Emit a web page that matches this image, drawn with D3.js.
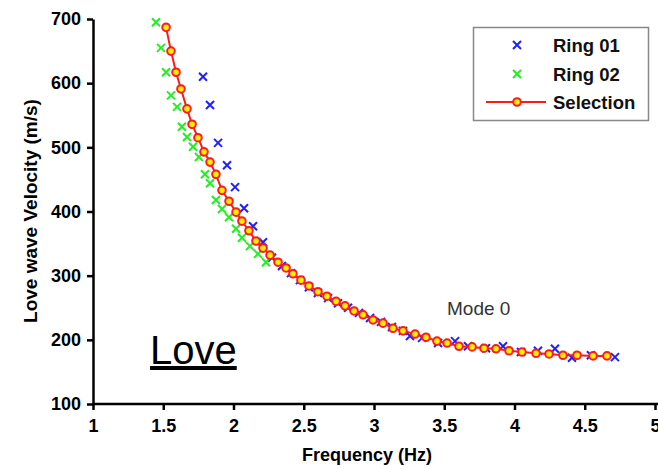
<!DOCTYPE html>
<html><head><meta charset="utf-8">
<script src="https://cdn.jsdelivr.net/npm/d3@7"></script>
<style>
body{margin:0;background:#fff;}
svg{display:block;font-family:"Liberation Sans",Arial,Helvetica,sans-serif;}
</style></head><body>
<svg id="c" width="658" height="469"></svg>
<script>
const xTicks = [1, 1.5, 2, 2.5, 3, 3.5, 4, 4.5, 5];
const xTickLabels = ["1", "1.5", "2", "2.5", "3", "3.5", "4", "4.5", "5"];
const yTicks = [100, 200, 300, 400, 500, 600, 700];

const ring01Freq = [1.783,1.833,1.890,1.954,2.011,2.075,2.139,2.210,2.274,2.345,2.409,2.473,2.537,2.601,2.673,2.744,2.815,2.893,2.972,3.050,3.128,3.206,3.256,3.342,3.456,3.577,3.669,3.797,3.918,4.046,4.167,4.288,4.409,4.544,4.715];
const ring01Vel  = [610,566,507,472,438,405,377,352,328,315,304,293,282,273,265,257,250,242,234,228,220,214,206,203,195,198,190,187,190,181,183,186,172,176,173];

const ring02Freq = [1.448,1.484,1.520,1.555,1.598,1.633,1.669,1.712,1.754,1.797,1.833,1.875,1.918,1.968,2.018,2.060,2.117,2.174,2.231];
const ring02Vel  = [695,655,617,581,563,532,516,501,485,458,444,418,404,391,373,359,346,334,321];

const selFreq = [1.520,1.555,1.591,1.626,1.669,1.705,1.747,1.790,1.833,1.875,1.918,1.968,2.018,2.060,2.110,2.160,2.210,2.260,2.317,2.374,2.423,2.480,2.537,2.601,2.665,2.730,2.794,2.858,2.922,2.993,3.064,3.135,3.206,3.292,3.370,3.448,3.520,3.605,3.698,3.783,3.868,3.961,4.053,4.153,4.246,4.345,4.445,4.559,4.658];
const selVel  = [687,650,617,591,560,536,515,493,477,458,433,416,399,385,370,354,343,332,321,312,303,293,284,275,268,260,253,245,239,231,226,218,214,209,204,198,195,190,189,187,186,183,181,179,178,176,176,175,175];

const legendLabels = ["Ring 01", "Ring 02", "Selection"];

const svg = d3.select("#c");
const x = d3.scaleLinear().domain([1, 5]).range([93, 655]);
const y = d3.scaleLinear().domain([100, 700]).range([404, 19]);

const tickFont = "18px";
// axes
const gx = svg.append("g").attr("transform", "translate(0,404)")
  .call(d3.axisBottom(x).tickValues(xTicks).tickFormat((d,i)=>xTickLabels[i]).tickSize(6).tickPadding(9).tickSizeOuter(0));
gx.select(".domain").attr("stroke","#000").attr("stroke-width",2.5).attr("d","M93,0H658");
gx.selectAll(".tick line").attr("stroke","#000").attr("stroke-width",2.5);
gx.selectAll(".tick text").attr("font-size",tickFont).attr("font-weight","bold").attr("fill","#000").attr("font-family","Liberation Sans, Arial, sans-serif");

const gy = svg.append("g").attr("transform", "translate(93,0)")
  .call(d3.axisLeft(y).tickValues(yTicks).tickSize(6).tickPadding(6).tickSizeOuter(0));
gy.select(".domain").attr("stroke","#000").attr("stroke-width",2.5);
gy.selectAll(".tick line").attr("stroke","#000").attr("stroke-width",2.5);
gy.selectAll(".tick text").attr("font-size",tickFont).attr("font-weight","bold").attr("fill","#000").attr("font-family","Liberation Sans, Arial, sans-serif");

// axis titles
svg.append("text").attr("x", 367).attr("y", 461).attr("text-anchor","middle")
  .attr("font-size","18px").attr("font-weight","bold").text("Frequency (Hz)");
svg.append("text").attr("transform","translate(37,211) rotate(-90)").attr("text-anchor","middle")
  .attr("font-size","19px").attr("font-weight","bold").text("Love wave Velocity (m/s)");

// cross marker
function cross(g, cx, cy, s, color){
  g.append("path").attr("d",`M${cx-s},${cy-s}L${cx+s},${cy+s}M${cx-s},${cy+s}L${cx+s},${cy-s}`)
   .attr("stroke",color).attr("stroke-width",2).attr("fill","none");
}
const plot = svg.append("g");
const blue = "#1f1fff", green = "#22ee22";
ring01Freq.forEach((f,i)=>cross(plot, x(f), y(ring01Vel[i]), 4, blue));
ring02Freq.forEach((f,i)=>cross(plot, x(f), y(ring02Vel[i]), 4, green));

// selection
const sel = selFreq.map((f,i)=>[f, selVel[i]]);
plot.append("path").datum(sel)
  .attr("d", d3.line().x(d=>x(d[0])).y(d=>y(d[1])))
  .attr("fill","none").attr("stroke","#ff1a1a").attr("stroke-width",2);
plot.selectAll("circle.sel").data(sel).enter().append("circle")
  .attr("cx",d=>x(d[0])).attr("cy",d=>y(d[1])).attr("r",3.8)
  .attr("fill","#ffee00").attr("stroke","#ff1a1a").attr("stroke-width",2);

// legend
const lg = svg.append("g");
lg.append("rect").attr("x",473.5).attr("y",27.5).attr("width",175).attr("height",93)
  .attr("fill","#fff").attr("stroke","#888").attr("stroke-width",1.5);
const ly = [45, 74, 102];
cross(lg, 517, ly[0], 4, blue);
cross(lg, 517, ly[1], 4, green);
lg.append("line").attr("x1",486).attr("x2",546).attr("y1",ly[2]).attr("y2",ly[2]).attr("stroke","#ff1a1a").attr("stroke-width",2);
lg.append("circle").attr("cx",517).attr("cy",ly[2]).attr("r",3.8).attr("fill","#ffee00").attr("stroke","#ff1a1a").attr("stroke-width",2);
legendLabels.forEach((t,i)=>{
  lg.append("text").attr("x",553).attr("y",ly[i]+7).attr("font-size","18.5px").attr("font-weight","bold").attr("fill","#111").text(t);
});

// annotations
svg.append("text").attr("x",447).attr("y",315).attr("font-size","19px").attr("fill","#333").text("Mode 0");
svg.append("text").attr("x",150).attr("y",364).attr("font-size","40px").attr("fill","#000")
  .style("text-decoration","underline").text("Love");
</script>
</body></html>
